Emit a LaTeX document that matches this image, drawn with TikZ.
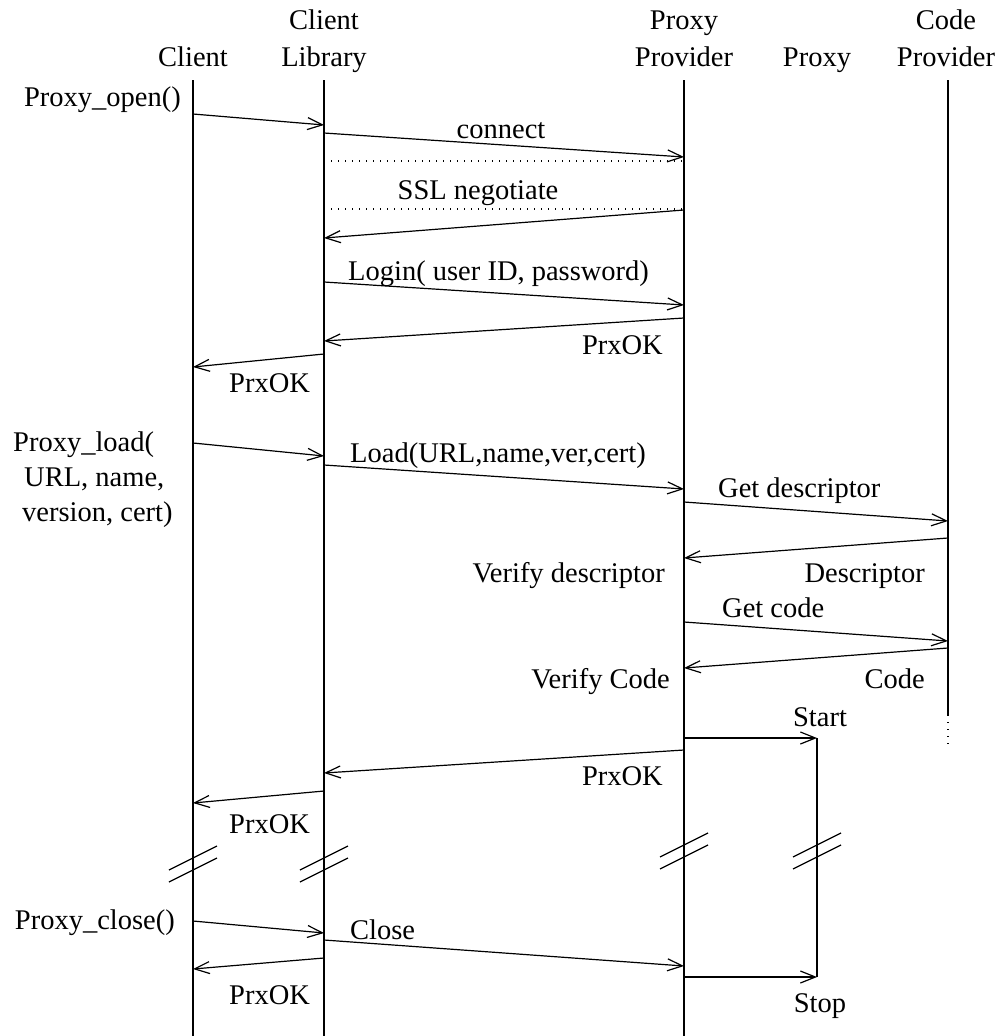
\documentclass[tikz,border=0pt]{standalone}
\usepackage{fontspec}
\setmainfont{Liberation Serif}
\usetikzlibrary{arrows.meta}
\begin{document}
\begin{tikzpicture}[x=1pt,y=-1pt,
  life/.style={line width=2.4pt},
  msg/.style={line width=1.2pt,-{Straight Barb[length=15pt,width=12pt]}},
  lbl/.style={inner sep=0pt,font=\fontsize{28.5}{34}\selectfont},
  hdr/.style={lbl,anchor=base},
  dots/.style={line width=1.2pt,dash pattern=on 1.2pt off 5.8pt},
  brk/.style={line width=1.2pt}]
\useasboundingbox (0,0) rectangle (994,1036);

% participant headers
\node[hdr] (hC)  at (193,66) {Client};
\node[hdr] (hL1) at (324,29) {Client};
\node[hdr] (hL2) at (324,66) {Library};
\node[hdr] (hP1) at (684,29) {Proxy};
\node[hdr] (hP2) at (684,66) {Provider};
\node[hdr] (hX)  at (817,66) {Proxy};
\node[hdr] (hK1) at (946,29) {Code};
\node[hdr] (hK2) at (946,66) {Provider};

% lifelines
\coordinate (cT) at (193,80);  \coordinate (cB) at (193,1036);
\coordinate (lT) at (324,80);  \coordinate (lB) at (324,1036);
\coordinate (pT) at (684,80);  \coordinate (pB) at (684,1036);
\coordinate (kT) at (948,80);  \coordinate (kE) at (948,715);  \coordinate (kD) at (948,748);
\coordinate (xT) at (817,738); \coordinate (xB) at (817,977);
\draw[life] (cT) -- (cB);
\draw[life] (lT) -- (lB);
\draw[life] (pT) -- (pB);
\draw[life] (kT) -- (kE);
\draw[dots] (kE) -- (kD);
\draw[life] (xT) -- (xB);

% Proxy_open
\node[lbl,anchor=base east] (tOpen) at (181,106) {Proxy\_open()};
\coordinate (a1) at (193,114); \coordinate (b1) at (324,125);
\draw[msg] (a1) -- (b1);
\node[lbl,anchor=base] (tConnect) at (501,138) {connect};
\coordinate (a2) at (324,133); \coordinate (b2) at (684,157);
\draw[msg] (a2) -- (b2);
\coordinate (d1a) at (324,161); \coordinate (d1b) at (684,161);
\draw[dots] (d1a) -- (d1b);
\node[lbl,anchor=base] (tSSL) at (478,199) {SSL negotiate};
\coordinate (d2a) at (324,209); \coordinate (d2b) at (684,209);
\draw[dots] (d2a) -- (d2b);
\coordinate (a3) at (684,210); \coordinate (b3) at (324,238);
\draw[msg] (a3) -- (b3);
\node[lbl,anchor=base west] (tLogin) at (348,280) {Login( user ID, password)};
\coordinate (a4) at (324,282); \coordinate (b4) at (684,305);
\draw[msg] (a4) -- (b4);
\coordinate (a5) at (684,318); \coordinate (b5) at (324,341);
\draw[msg] (a5) -- (b5);
\node[lbl,anchor=base east] (tOK1) at (663,354) {PrxOK};
\coordinate (a6) at (324,354); \coordinate (b6) at (193,367);
\draw[msg] (a6) -- (b6);
\node[lbl,anchor=base west] (tOK2) at (229,392) {PrxOK};

% Proxy_load
\node[lbl,anchor=base west] (tLoad1) at (13,451) {Proxy\_load(};
\node[lbl,anchor=base west] (tLoad2) at (24,486) {URL, name,};
\node[lbl,anchor=base west] (tLoad3) at (22,521) {version, cert)};
\coordinate (a7) at (193,443); \coordinate (b7) at (324,456);
\draw[msg] (a7) -- (b7);
\node[lbl,anchor=base west] (tLoad) at (350,462) {Load(URL,name,ver,cert)};
\coordinate (a8) at (324,465); \coordinate (b8) at (684,489);
\draw[msg] (a8) -- (b8);
\node[lbl,anchor=base west] (tGetD) at (718,497) {Get descriptor};
\coordinate (a9) at (684,502); \coordinate (b9) at (948,521);
\draw[msg] (a9) -- (b9);
\coordinate (a10) at (948,538); \coordinate (b10) at (684,558);
\draw[msg] (a10) -- (b10);
\node[lbl,anchor=base east] (tVerD) at (665,582) {Verify descriptor};
\node[lbl,anchor=base east] (tDesc) at (925,582) {Descriptor};
\node[lbl,anchor=base west] (tGetC) at (722,617) {Get code};
\coordinate (a11) at (684,622); \coordinate (b11) at (948,641);
\draw[msg] (a11) -- (b11);
\coordinate (a12) at (948,648); \coordinate (b12) at (684,668);
\draw[msg] (a12) -- (b12);
\node[lbl,anchor=base east] (tVerC) at (670,688) {Verify Code};
\node[lbl,anchor=base east] (tCode) at (925,688) {Code};
\node[lbl,anchor=base] (tStart) at (820,726) {Start};
\coordinate (a13) at (684,738);
\draw[msg] (a13) -- (xT);
\coordinate (a14) at (684,750); \coordinate (b14) at (324,773);
\draw[msg] (a14) -- (b14);
\node[lbl,anchor=base east] (tOK3) at (663,785) {PrxOK};
\coordinate (a15) at (324,791); \coordinate (b15) at (193,803);
\draw[msg] (a15) -- (b15);
\node[lbl,anchor=base west] (tOK4) at (229,833) {PrxOK};

% breaks in the time axis
\foreach \x/\c in {193/864,324/864,684/851,817/851}{
  \draw[brk] ({\x-24},{\c-6+12}) -- ({\x+24},{\c-6-12});
  \draw[brk] ({\x-24},{\c+6+12}) -- ({\x+24},{\c+6-12});
}

% Proxy_close
\node[lbl,anchor=base east] (tClose0) at (175,929) {Proxy\_close()};
\coordinate (a16) at (193,921); \coordinate (b16) at (324,933);
\draw[msg] (a16) -- (b16);
\node[lbl,anchor=base west] (tClose) at (350,939) {Close};
\coordinate (a17) at (324,940); \coordinate (b17) at (684,966);
\draw[msg] (a17) -- (b17);
\coordinate (a18) at (324,958); \coordinate (b18) at (193,969);
\draw[msg] (a18) -- (b18);
\node[lbl,anchor=base west] (tOK5) at (229,1004) {PrxOK};
\coordinate (a19) at (684,977);
\draw[msg] (a19) -- (xB);
\node[lbl,anchor=base] (tStop) at (820,1012) {Stop};
\end{tikzpicture}
\end{document}
